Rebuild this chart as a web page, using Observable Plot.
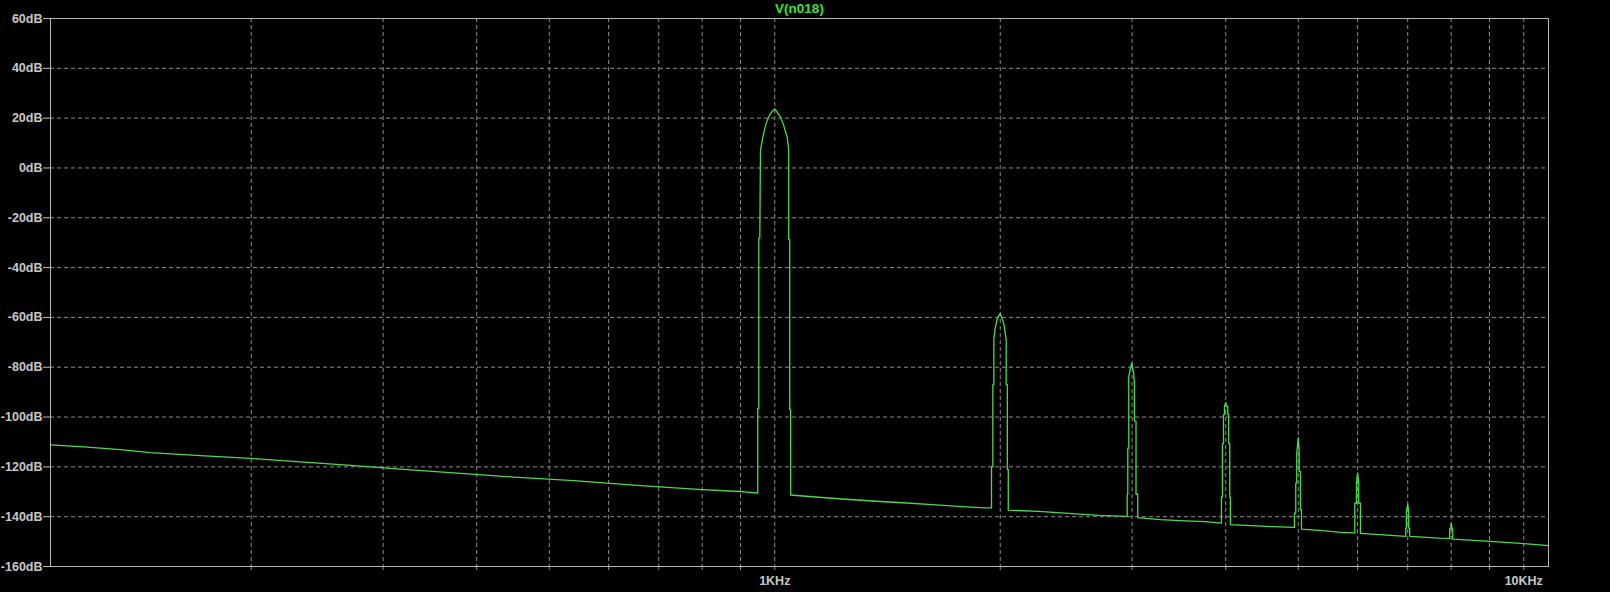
<!DOCTYPE html>
<html>
<head>
<meta charset="utf-8">
<script src="https://cdn.jsdelivr.net/npm/d3@7"></script>
<script src="https://cdn.jsdelivr.net/npm/@observablehq/plot@0.6"></script>
<style>
  html, body { margin: 0; padding: 0; background: #000; }
</style>
</head>
<body>
<div id="chart"></div>
<script>
const titleText = "V(n018)";

// Frequency (Hz) of each trace vertex
const freqHz = [
  107.9, 119.5, 133.8, 146.7, 171.1, 199.5, 232.6, 271.4, 316.4, 372.6, 448.1, 539, 648, 779.5, 909, 949,
  949, 952, 952, 955, 957, 962, 967, 972, 977, 982, 987, 992, 1000, 1007, 1018, 1028, 1039, 1044, 1044, 1047, 1047, 1050, 1050,
  1122, 1230, 1349, 1480, 1623, 1779, 1911, 1947,
  1947, 1955, 1955, 1961, 1961, 1967, 1975, 1985, 2000, 2009, 2022, 2030, 2037, 2037, 2044, 2044, 2050, 2050,
  2251, 2469, 2708, 2955,
  2955, 2960, 2960, 2969, 2969, 2982, 2997, 3006, 3015, 3021, 3021, 3036, 3036, 3052, 3052,
  3273, 3534, 3758, 3948,
  3948, 3960, 3960, 3973, 3973, 3985, 3985, 4000, 4013, 4025, 4025, 4037, 4037, 4050, 4050, 4058, 4058,
  4316, 4633, 4941,
  4941, 4961, 4961, 4976, 4976, 5000, 5013, 5013, 5033, 5033, 5049, 5049,
  5387, 5692, 5949,
  5949, 5979, 5979, 6000, 6021, 6021, 6053, 6053,
  6495, 6957,
  6957, 6971, 6971, 7000, 7021, 7021, 7042, 7042,
  7691, 7963,
  7963, 7988, 8000, 8023, 8038, 8038,
  9026, 9899, 10790
];

// Magnitude (dB) of each trace vertex
const levelDb = [
  -111.2, -112.0, -113.1, -114.3, -115.5, -116.6, -118.0, -119.4, -120.9, -122.4, -124.1, -125.5, -127.3, -128.9, -130.0, -130.5,
  -96.6, -96.6, -28.2, -28.2, 7.0, 11.0, 14.3, 17.0, 19.0, 20.6, 21.7, 22.7, 23.7, 22.4, 20.4, 17.0, 12.3, 7.0, -28.8, -28.8, -97.0, -97.0, -131.3,
  -132.0, -132.9, -133.7, -134.4, -135.2, -136.0, -136.5, -136.5,
  -120, -120, -87, -87, -69, -65.3, -62.6, -60, -58.4, -60, -62.6, -66, -69, -87, -87, -121, -121, -137.4,
  -137.9, -138.7, -139.5, -139.9,
  -131, -131, -112.5, -112.5, -84, -80.7, -78.4, -80.5, -82.7, -86.7, -101.6, -101.6, -131, -131, -140.4,
  -141.2, -141.7, -142.0, -142.6,
  -132.1, -132.1, -110.7, -110.7, -99, -99, -95.7, -94.1, -95.7, -95.7, -99, -99, -110.7, -110.7, -132.1, -132.1, -143.2,
  -143.6, -144.0, -144.3,
  -138.6, -138.6, -126.5, -126.5, -114.5, -108.4, -112.8, -121.8, -121.8, -137.2, -137.2, -145.0,
  -145.6, -146.3, -146.5,
  -134.6, -134.6, -126.6, -122.4, -126.6, -134.6, -134.6, -146.7,
  -147.3, -147.9,
  -144.6, -144.6, -138.1, -134.9, -138.1, -144.6, -144.6, -147.9,
  -148.6, -148.7,
  -144.9, -144.9, -142.7, -144.9, -144.9, -149.0,
  -149.9, -150.7, -151.6
];

// Axis ticks
const xGridHz = [200, 300, 400, 500, 600, 700, 800, 900, 1000, 2000, 3000, 4000, 5000, 6000, 7000, 8000, 9000, 10000];
const xLabels = {1000: "1KHz", 10000: "10KHz"};
const yTicksDb = [60, 40, 20, 0, -20, -40, -60, -80, -100, -120, -140, -160];
const yGridDb = [40, 20, 0, -20, -40, -60, -80, -100, -120, -140];

const trace = freqHz.map((f, i) => ({f, db: levelDb[i]}));

const chart = Plot.plot({
  width: 1610,
  height: 592,
  marginLeft: 50,
  marginRight: 62,
  marginTop: 18,
  marginBottom: 26,
  style: {
    background: "#000",
    color: "#c8c8c8",
    fontFamily: "'Liberation Sans', Arial, sans-serif",
    fontSize: "12.5px",
    fontWeight: "bold"
  },
  x: {type: "log", domain: [107.9, 10790]},
  y: {domain: [-160, 60]},
  marks: [
    Plot.ruleX(xGridHz, {stroke: "#8c8c8c", strokeDasharray: "4,3", strokeWidth: 1}),
    Plot.ruleY(yGridDb, {stroke: "#8c8c8c", strokeDasharray: "4,3", strokeWidth: 1}),
    Plot.axisY({
      ticks: yTicksDb,
      tickFormat: d => `${d}dB`,
      tickSize: 7,
      tickPadding: 1,
      label: null,
      stroke: "#c0c0c0",
      fill: "#c8c8c8"
    }),
    Plot.axisX({
      ticks: xGridHz,
      tickFormat: d => xLabels[d] ?? "",
      tickSize: 4,
      tickPadding: 6,
      label: null,
      stroke: "#8c8c8c",
      fill: "#c8c8c8"
    }),
    Plot.line(trace, {x: "f", y: "db", stroke: "#4cd94c", strokeWidth: 1.3, curve: "linear"}),
    Plot.frame({stroke: "#b8b8b8", strokeWidth: 1}),
    Plot.text([titleText], {
      frameAnchor: "top",
      lineAnchor: "middle",
      dy: -10,
      fill: "#3de03d",
      fontWeight: "bold",
      fontSize: 13.5
    })
  ]
});

document.getElementById("chart").appendChild(chart);
</script>
</body>
</html>
